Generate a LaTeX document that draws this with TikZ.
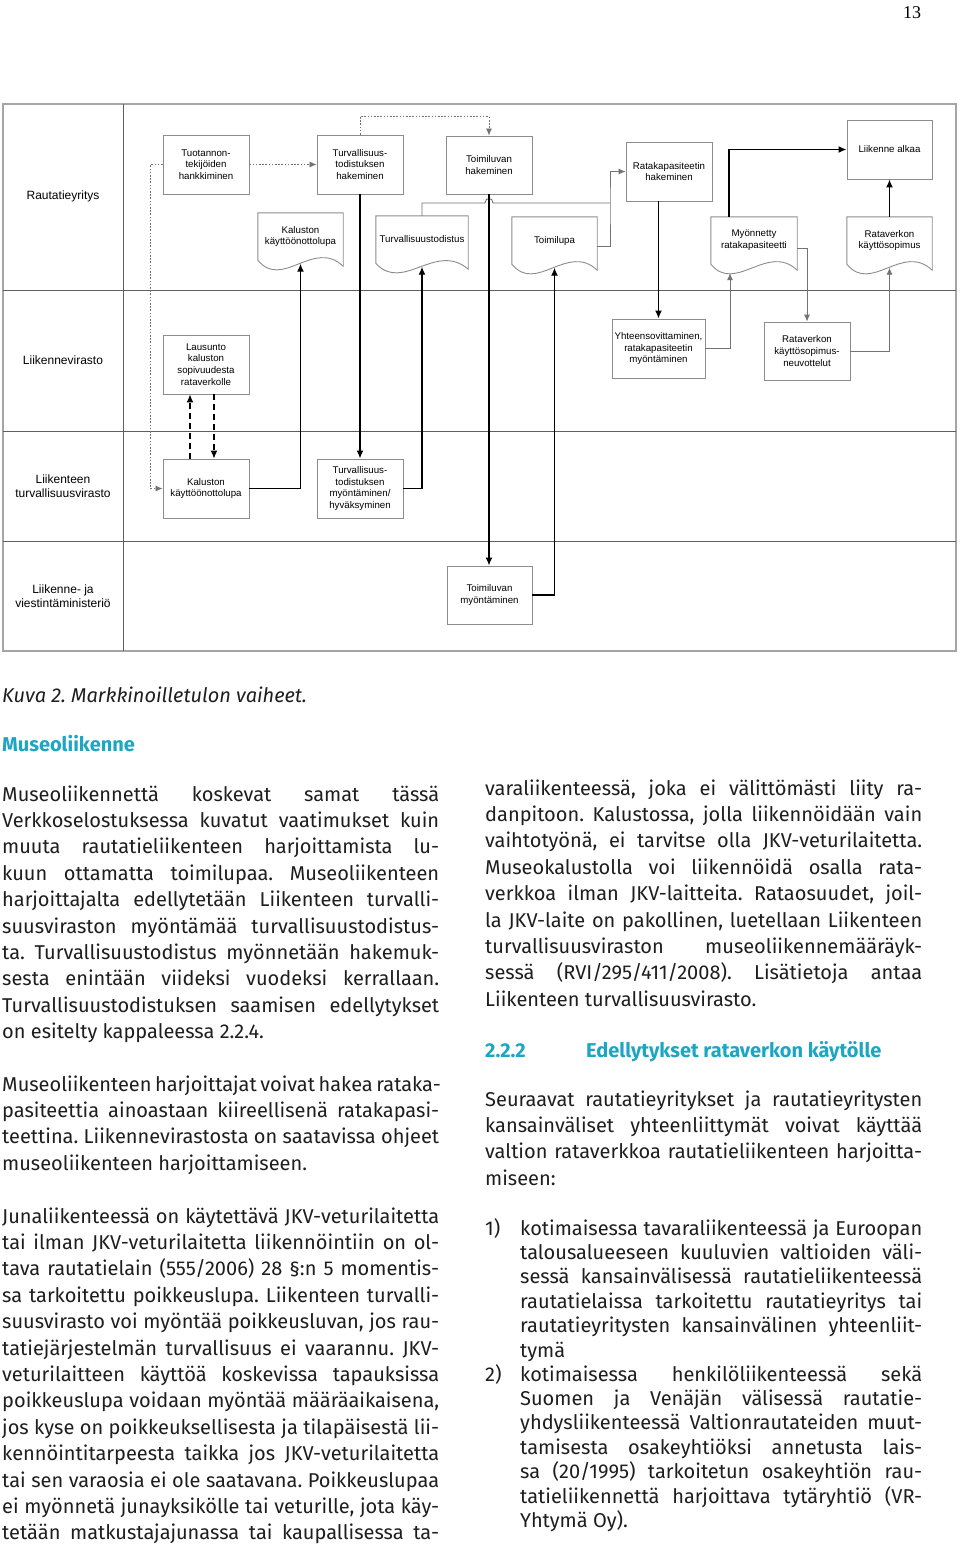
\documentclass[tikz,border=0pt]{standalone}
\usepackage{fontspec}
\setmainfont{Fira Sans}
\newfontfamily\diaFont{Liberation Sans}
\newfontfamily\pageFont{Liberation Serif}
\usetikzlibrary{positioning}
\usetikzlibrary{arrows.meta}
\frenchspacing

\definecolor{headCyan}{RGB}{28,166,196}
\definecolor{bodyBlack}{RGB}{30,30,30}
\definecolor{frameGray}{RGB}{165,165,165}
\definecolor{laneGray}{RGB}{95,95,95}
\definecolor{boxGray}{RGB}{140,140,140}
\definecolor{thinGray}{RGB}{115,115,115}

\newlength{\colW}\setlength{\colW}{437pt}
\newlength{\listW}\setlength{\listW}{402pt}
\newcommand{\fullLine}[1]{\hbox to\colW{#1}}
\newcommand{\listLine}[1]{\hbox to\listW{#1}}

\begin{document}
\begin{tikzpicture}[x=1pt, y=-1pt,
    laneLabel/.style={align=center, font=\diaFont\fontsize{12}{14}\selectfont},
    taskBox/.style={draw=boxGray, line width=0.9pt, minimum width=86pt, minimum height=59pt,
      inner sep=1pt, align=center, font=\diaFont\fontsize{9.7}{11.7}\selectfont},
    docText/.style={minimum height=47pt, inner sep=1pt, align=center,
      font=\diaFont\fontsize{9.7}{11.7}\selectfont},
    flowLine/.style={line width=1.4pt, -{Latex[length=8pt,width=7pt]}},
    thinLine/.style={draw=thinGray, line width=0.9pt, -{Latex[length=7pt,width=6pt]}},
    dotLine/.style={draw=thinGray, line width=0.8pt, dash pattern=on 1.6pt off 1.6pt,
      -{Latex[length=7pt,width=6pt]}},
    dashLine/.style={line width=1.2pt, dash pattern=on 6pt off 4pt, -{Latex[length=8pt,width=7pt]}},
    bodyText/.style={anchor=base west, inner sep=0pt, text=bodyBlack,
      font=\fontsize{20}{26.4}\selectfont}]

    \useasboundingbox (0,0) rectangle (960,1548);
    \fill[white] (0,0) rectangle (960,1548);

    \newcommand{\drawDoc}[5]{
      % #1 = name, #2,#3 = centre, #4 = width, #5 = text
      \node[docText, minimum width=#4pt] (#1) at (#2,#3) {#5};
      \draw[draw=boxGray, line width=0.9pt] (#1.south west) -- (#1.north west) -- (#1.north east)
        -- ([yshift=-6pt]#1.south east) .. controls +({-0.35*#4},-28) and +({0.29*#4},30) .. (#1.south west) -- cycle;
    }

    \node[anchor=base, font=\pageFont\fontsize{18}{20}\selectfont] (pageNum) at (912,18) {13};

    % swimlanes
    \draw[frameGray, line width=1.2pt] (3,104) rectangle (956,651);
    \foreach \y in {290, 431, 541} {
        \draw[laneGray, line width=0.9pt] (3,\y) -- (956,\y);
    }
    \draw[laneGray, line width=0.9pt] (123,104) -- (123,651);

    \node[laneLabel] (laneRata) at (63,196) {Rautatieyritys};
    \node[laneLabel] (laneLivi) at (63,360) {Liikennevirasto};
    \node[laneLabel] (laneTrafi) at (63,486) {Liikenteen\\turvallisuusvirasto};
    \node[laneLabel] (laneLvm) at (63,596) {Liikenne- ja\\viestintäministeriö};

    % tasks
    \node[taskBox] (tuotanto) at (206,164.5) {Tuotannon-\\tekijöiden\\hankkiminen};
    \node[taskBox] (ttHaku) at (360,164.5) {Turvallisuus-\\todistuksen\\hakeminen};
    \node[taskBox, minimum height=58pt] (toimiHaku) at (489,165) {Toimiluvan\\hakeminen};
    \node[taskBox] (ratakapHaku) at (669,171.5) {Ratakapasiteetin\\hakeminen};
    \node[taskBox, minimum width=85pt] (liikenneAlkaa) at (889.5,149.5) {Liikenne alkaa};
    \node[taskBox] (lausunto) at (206,364.5) {Lausunto\\kaluston\\sopivuudesta\\rataverkolle};
    \node[taskBox, minimum width=93pt] (yhteens) at (658.5,348.5) {Yhteensovittaminen,\\ratakapasiteetin\\myöntäminen};
    \node[taskBox, minimum height=58pt] (rkNeuvot) at (807,351) {Rataverkon\\käyttösopimus-\\neuvottelut};
    \node[taskBox] (kalustoLupa) at (206,488.5) {Kaluston\\käyttöönottolupa};
    \node[taskBox] (ttMyonto) at (360,488.5) {Turvallisuus-\\todistuksen\\myöntäminen/\\hyväksyminen};
    \node[taskBox, minimum width=85pt, minimum height=58pt] (toimiMyonto) at (489.5,595) {Toimiluvan\\myöntäminen};

    % documents
    \drawDoc{kalustoDoc}{300.5}{236.5}{85}{Kaluston\\käyttöönottolupa}
    \drawDoc{ttDoc}{422}{239.5}{92}{Turvallisuustodistus}
    \drawDoc{toimiDoc}{554.5}{240.5}{85}{Toimilupa}
    \drawDoc{myonDoc}{754}{240.5}{86}{Myönnetty\\ratakapasiteetti}
    \drawDoc{rkDoc}{889.5}{240.5}{85}{Rataverkon\\käyttösopimus}

    % connectors
    \draw[dotLine] (tuotanto.west) -- ++(-12,0) |- (kalustoLupa.west);
    \draw[dotLine] (tuotanto.east) -- (ttHaku.west);
    \draw[dotLine] (ttHaku.north) -- ++(0,-18) -| (toimiHaku.north);
    \draw[flowLine] (ttHaku.south) -- (ttMyonto.north);
    \draw[flowLine] (kalustoLupa.east) -| ([yshift=-3.5pt]kalustoDoc.south);
    \draw[flowLine] (ttMyonto.east) -| ([yshift=-3.5pt]ttDoc.south);
    \draw[dashLine] ([xshift=-16pt]kalustoLupa.north) -- ([xshift=-16pt]lausunto.south);
    \draw[dashLine] ([xshift=8pt]lausunto.south) -- ([xshift=8pt]kalustoLupa.north);

    \coordinate (kapJoin) at (610,203);
    \draw[thinLine, -] (ttDoc.north) |- (485,203) .. controls (485,197) and (493,197) .. (493,203) -- (kapJoin);
    \draw[thinLine] ([yshift=-5.5pt]toimiDoc.east) -| (kapJoin) |- (ratakapHaku.west);
    \draw[flowLine] (toimiHaku.south) -- (toimiHaku.south |- toimiMyonto.north);
    \draw[flowLine] (toimiMyonto.east) -| ([yshift=-3.5pt]toimiDoc.south);
    \draw[flowLine] (yhteens.north |- ratakapHaku.south) -- (yhteens.north);
    \draw[thinLine] (yhteens.east) -| ([xshift=-24pt,yshift=-9pt]myonDoc.south);
    \draw[flowLine] ([xshift=-25pt]myonDoc.north) |- (liikenneAlkaa.west);
    \draw[thinLine] ([yshift=-7.5pt]myonDoc.east) -| (rkNeuvot.north);
    \draw[thinLine] (rkNeuvot.east) -| ([yshift=-3.5pt]rkDoc.south);
    \draw[flowLine] (rkDoc.north) -- (liikenneAlkaa.south);

    % text below the figure
    \node[bodyText, font=\itshape\fontsize{20}{26}\selectfont] (caption) at (2,702) {Kuva 2. Markkinoilletulon vaiheet.};
    \node[bodyText, text=headCyan, font=\bfseries\fontsize{20}{26}\selectfont] (headMuseo) at (2,751) {Museoliikenne};

    \node[bodyText] (paraMuseo) at (2,801) {\vtop{
      \fullLine{Museoliikennettä koskevat samat tässä}
      \fullLine{Verkkoselostuksessa kuvatut vaatimukset kuin}
      \fullLine{muuta rautatieliikenteen harjoittamista lu-}
      \fullLine{kuun ottamatta toimilupaa. Museoliikenteen}
      \fullLine{harjoittajalta edellytetään Liikenteen turvalli-}
      \fullLine{suusviraston myöntämää turvallisuustodistus-}
      \fullLine{ta. Turvallisuustodistus myönnetään hakemuk-}
      \fullLine{sesta enintään viideksi vuodeksi kerrallaan.}
      \fullLine{Turvallisuustodistuksen saamisen edellytykset}
      \hbox{on esitelty kappaleessa 2.2.4.}}};

    \node[bodyText] (paraKapasiteetti) at (2,1091) {\vtop{
      \fullLine{Museoliikenteen harjoittajat voivat hakea rataka-}
      \fullLine{pasiteettia ainoastaan kiireellisenä ratakapasi-}
      \fullLine{teettina. Liikennevirastosta on saatavissa ohjeet}
      \hbox{museoliikenteen harjoittamiseen.}}};

    \node[bodyText] (paraJkv) at (2,1223) {\vtop{
      \fullLine{Junaliikenteessä on käytettävä JKV-veturilaitetta}
      \fullLine{tai ilman JKV-veturilaitetta liikennöintiin on ol-}
      \fullLine{tava rautatielain (555/2006) 28 §:n 5 momentis-}
      \fullLine{sa tarkoitettu poikkeuslupa. Liikenteen turvalli-}
      \fullLine{suusvirasto voi myöntää poikkeusluvan, jos rau-}
      \fullLine{tatiejärjestelmän turvallisuus ei vaarannu. JKV-}
      \fullLine{veturilaitteen käyttöä koskevissa tapauksissa}
      \fullLine{poikkeuslupa voidaan myöntää määräaikaisena,}
      \fullLine{jos kyse on poikkeuksellisesta ja tilapäisestä lii-}
      \fullLine{kennöintitarpeesta taikka jos JKV-veturilaitetta}
      \fullLine{tai sen varaosia ei ole saatavana. Poikkeuslupaa}
      \fullLine{ei myönnetä junayksikölle tai veturille, jota käy-}
      \fullLine{tetään matkustajajunassa tai kaupallisessa ta-}}};

    \node[bodyText] (paraJkvCont) at (485,795) {\vtop{
      \fullLine{varaliikenteessä, joka ei välittömästi liity ra-}
      \fullLine{danpitoon. Kalustossa, jolla liikennöidään vain}
      \fullLine{vaihtotyönä, ei tarvitse olla JKV-veturilaitetta.}
      \fullLine{Museokalustolla voi liikennöidä osalla rata-}
      \fullLine{verkkoa ilman JKV-laitteita. Rataosuudet, joil-}
      \fullLine{la JKV-laite on pakollinen, luetellaan Liikenteen}
      \fullLine{turvallisuusviraston museoliikennemääräyk-}
      \fullLine{sessä (RVI/295/411/2008). Lisätietoja antaa}
      \hbox{Liikenteen turvallisuusvirasto.}}};

    \node[bodyText, text=headCyan, font=\bfseries\fontsize{20}{26}\selectfont] (headNum) at (485,1057) {2.2.2};
    \node[bodyText, text=headCyan, font=\bfseries\fontsize{20}{26}\selectfont] (headEdell) at (586,1057) {Edellytykset rataverkon käytölle};

    \node[bodyText] (paraSeuraavat) at (485,1106) {\vtop{
      \fullLine{Seuraavat rautatieyritykset ja rautatieyritysten}
      \fullLine{kansainväliset yhteenliittymät voivat käyttää}
      \fullLine{valtion rataverkkoa rautatieliikenteen harjoitta-}
      \hbox{miseen:}}};

    \node[bodyText] (numOne) at (485,1235) {1)};
    \node[bodyText, font=\fontsize{20}{24.4}\selectfont] (itemOne) at (520,1235) {\vtop{
      \listLine{kotimaisessa tavaraliikenteessä ja Euroopan}
      \listLine{talousalueeseen kuuluvien valtioiden väli-}
      \listLine{sessä kansainvälisessä rautatieliikenteessä}
      \listLine{rautatielaissa tarkoitettu rautatieyritys tai}
      \listLine{rautatieyritysten kansainvälinen yhteenliit-}
      \hbox{tymä}}};

    \node[bodyText] (numTwo) at (485,1381) {2)};
    \node[bodyText, font=\fontsize{20}{24.4}\selectfont] (itemTwo) at (520,1381) {\vtop{
      \listLine{kotimaisessa henkilöliikenteessä sekä}
      \listLine{Suomen ja Venäjän välisessä rautatie-}
      \listLine{yhdysliikenteessä Valtionrautateiden muut-}
      \listLine{tamisesta osakeyhtiöksi annetusta lais-}
      \listLine{sa (20/1995) tarkoitetun osakeyhtiön rau-}
      \listLine{tatieliikennettä harjoittava tytäryhtiö (VR-}
      \hbox{Yhtymä Oy).}}};

\end{tikzpicture}
\end{document}
